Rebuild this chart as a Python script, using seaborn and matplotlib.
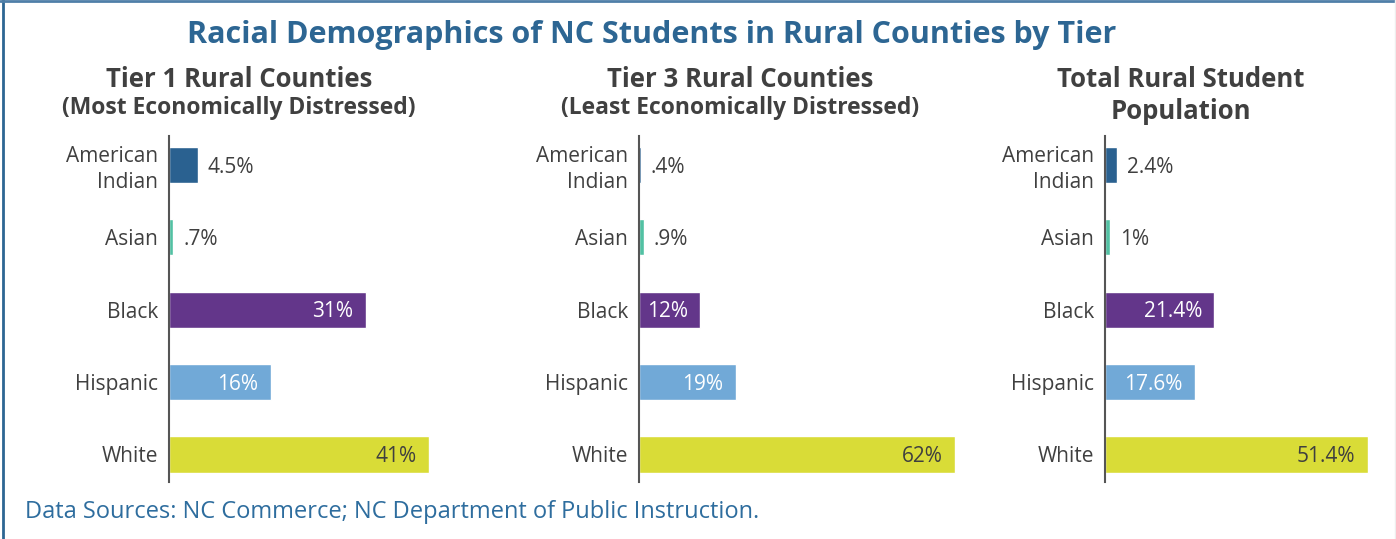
import matplotlib
matplotlib.use("Agg")
import matplotlib.pyplot as plt
import seaborn as sns
import pandas as pd
from matplotlib.lines import Line2D

########################################################
# Data
########################################################

races = ["American\nIndian", "Asian", "Black", "Hispanic", "White"]
tier1_pct = [4.5, 0.7, 31, 16, 41]
tier3_pct = [0.4, 0.9, 12, 19, 62]
total_pct = [2.4, 1.0, 21.4, 17.6, 51.4]

tier1_labels = ["4.5%", ".7%", "31%", "16%", "41%"]
tier3_labels = [".4%", ".9%", "12%", "19%", "62%"]
total_labels = ["2.4%", "1%", "21.4%", "17.6%", "51.4%"]

race_colors = ["#2a6190", "#52c1a3", "#63368a", "#71a9d7", "#d9dc37"]
label_colors = ["#3f3f3f", "#3f3f3f", "white", "white", "#3f3f3f"]
inside = [False, False, True, True, True]

TITLE_BLUE = "#2d6693"
GRAY = "#404040"

########################################################
# Style
########################################################

sns.set_theme(style="white")
plt.rcParams["font.family"] = ["Open Sans", "DejaVu Sans"]

fig = plt.figure(figsize=(13.96, 5.39), dpi=100)

panels = [
    (tier1_pct, tier1_labels, [0.1211, 0.1058, 0.2085, 0.6419], 45.9),
    (tier3_pct, tier3_labels, [0.4577, 0.1058, 0.2371, 0.6419], 64.9),
    (total_pct, total_labels, [0.7915, 0.1058, 0.2006, 0.6419], 54.7),
]

for vals, labs, rect, xmax in panels:
    ax = fig.add_axes(rect)
    df = pd.DataFrame({"race": races, "pct": vals})
    sns.barplot(data=df, x="pct", y="race", hue="race", palette=race_colors,
                order=races, hue_order=races, legend=False, width=0.5,
                saturation=1, ax=ax)
    ax.set_xlim(0, xmax)
    ax.set_ylim(4.38, -0.4)
    ax.set_xlabel("")
    ax.set_ylabel("")
    ax.set_xticks([])
    ax.tick_params(axis="y", length=0, pad=8, labelsize=15, labelcolor=GRAY)
    for lab in ax.get_yticklabels():
        lab.set_linespacing(1.3)
    for s in ["top", "right", "bottom"]:
        ax.spines[s].set_visible(False)
    ax.spines["left"].set_color("#555555")
    ax.spines["left"].set_linewidth(1.5)
    for i, (v, t) in enumerate(zip(vals, labs)):
        if inside[i]:
            ax.annotate(t, xy=(v, i), xytext=(-9, -1.5), textcoords="offset points",
                        ha="right", va="center", fontsize=15, color=label_colors[i])
        else:
            ax.annotate(t, xy=(v, i), xytext=(7, -1.5), textcoords="offset points",
                        ha="left", va="center", fontsize=15, color=label_colors[i])

########################################################
# Titles and notes
########################################################

fig.text(0.467, 0.935, "Racial Demographics of NC Students in Rural Counties by Tier",
         ha="center", va="center", fontsize=22, fontweight="bold", color=TITLE_BLUE)

fig.text(0.171, 0.853, "Tier 1 Rural Counties", ha="center", va="center",
         fontsize=18.5, fontweight="bold", color=GRAY)
fig.text(0.171, 0.800, "(Most Economically Distressed)", ha="center", va="center",
         fontsize=16.5, fontweight="bold", color=GRAY)
fig.text(0.530, 0.853, "Tier 3 Rural Counties", ha="center", va="center",
         fontsize=18.5, fontweight="bold", color=GRAY)
fig.text(0.530, 0.800, "(Least Economically Distressed)", ha="center", va="center",
         fontsize=16.5, fontweight="bold", color=GRAY)
fig.text(0.846, 0.853, "Total Rural Student", ha="center", va="center",
         fontsize=18.5, fontweight="bold", color=GRAY)
fig.text(0.846, 0.793, "Population", ha="center", va="center",
         fontsize=18.5, fontweight="bold", color=GRAY)

fig.text(0.0179, 0.05, "Data Sources: NC Commerce; NC Department of Public Instruction.",
         ha="left", va="center", fontsize=17, color="#2e6d9e")

# frame lines on the left and top
fig.add_artist(Line2D([0.0025, 0.0025], [0, 1], transform=fig.transFigure,
                      color="#2d6693", linewidth=2))
fig.add_artist(Line2D([0, 1], [0.998, 0.998], transform=fig.transFigure,
                      color="#4f7fa8", linewidth=2))
fig.add_artist(Line2D([0.9992, 0.9992], [0, 1], transform=fig.transFigure,
                      color="#eeeeee", linewidth=1))

fig.savefig("out.png", dpi=100)
